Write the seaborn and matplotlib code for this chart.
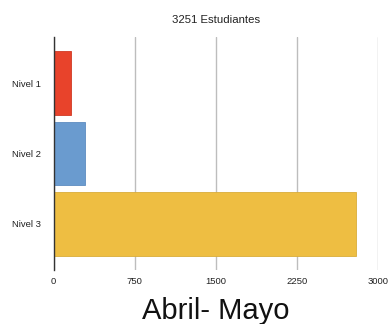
import matplotlib
matplotlib.use("Agg")
import matplotlib.pyplot as plt
import seaborn as sns
import pandas as pd

# Students per level
niveles = ["Nivel 1", "Nivel 2", "Nivel 3"]
estudiantes = [165, 288, 2798]
colores = ["#E8432B", "#6A9BCF", "#EEBE42"]
bordes = ["#D03A24", "#5D8CC0", "#D9AC3A"]
ticks_x = [0, 750, 1500, 2250, 3000]
titulo = "3251 Estudiantes"
etiqueta_x = "Abril- Mayo"

sns.set_theme(style="white")
plt.rcParams["font.family"] = ["Liberation Sans", "DejaVu Sans"]

df = pd.DataFrame({"nivel": niveles, "n": estudiantes})

fig = plt.figure(figsize=(3.9, 3.24), dpi=100)
ax = fig.add_axes([53.5 / 390, 54 / 324, 324.5 / 390, 233 / 324])

sns.barplot(data=df, x="n", y="nivel", hue="nivel", palette=colores,
            saturation=1, orient="h", width=0.91, legend=False, ax=ax, zorder=3)
for patch, ec in zip(ax.patches, bordes):
    patch.set_edgecolor(ec)
    patch.set_linewidth(0.6)

ax.set_xlim(0, 3000)
ax.set_ylim(2.66, -0.66)
ax.set_xticks(ticks_x)
ax.set_xticklabels([str(t) for t in ticks_x])
ax.grid(axis="x", color="#BDBDBD", linewidth=1.0, zorder=0)
ax.grid(axis="y", visible=False)

for side in ["top", "right", "bottom"]:
    ax.spines[side].set_visible(False)
ax.spines["left"].set_color("#333333")
ax.spines["left"].set_linewidth(1.0)
ax.spines["left"].set_zorder(4)

ax.tick_params(axis="x", length=0, pad=5, labelsize=6.8, labelcolor="#222222")
ax.tick_params(axis="y", length=0, pad=9, labelsize=6.8, labelcolor="#222222")

ax.set_ylabel("")
ax.set_xlabel(etiqueta_x, fontsize=21, color="#111111")
ax.xaxis.label.set_va("baseline")
ax.xaxis.set_label_coords(0.5, (5 - 54) / 233)
ax.set_title(titulo, fontsize=8.2, color="#222222", pad=10)

fig.savefig("out.png", dpi=100)
